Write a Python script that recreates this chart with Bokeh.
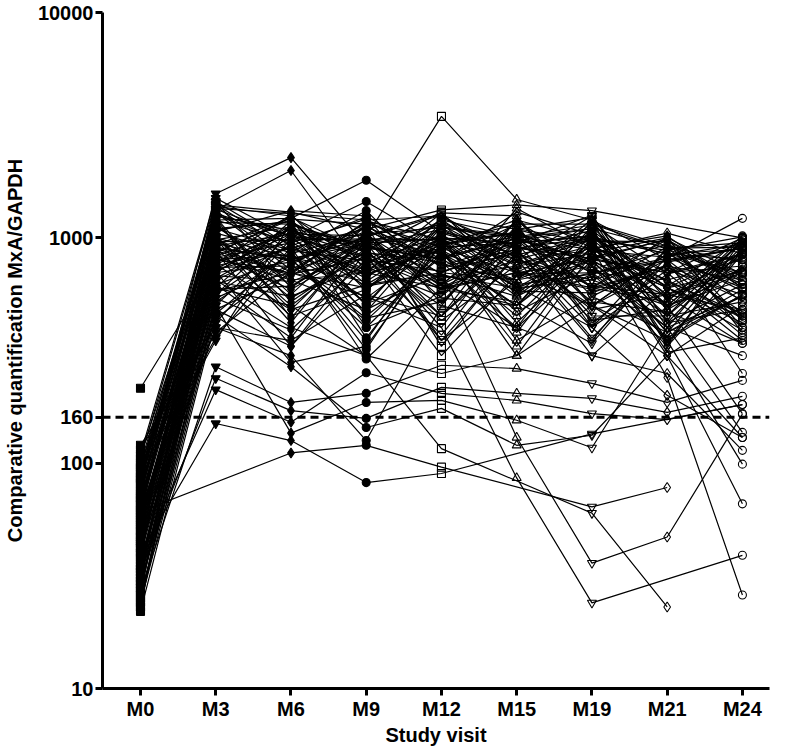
from bokeh.plotting import figure
from bokeh.models import Span, FixedTicker, NumeralTickFormatter
from bokeh.embed import file_html
from bokeh.resources import INLINE

N = None
visits = ["M0", "M3", "M6", "M9", "M12", "M15", "M19", "M21", "M24"]
y_ticks = [10, 100, 160, 1000, 10000]
threshold = 160

# one list per study visit; position i = patient i (None = no sample)
m0 = [215, 40, 61, 35, 30, 50, 70, 55, 80, 90,
      60, 100, 45, 75, 27, 33, 38, 25, 42, 48,
      52, 23, 65, 110, 105, 95, 88, 85, 82, 78,
      76, 73, 70, 68, 66, 64, 62, 58, 57, 56,
      54, 53, 51, 49, 47, 46, 44, 43, 41, 39,
      37, 36, 34, 32, 31, 29, 28, 26, 24, 22,
      115, 120, 98, 92, 87, 72, 59, 44, 31, 26,
      23, 108, 96, 84, 67, 50, 40, 34, 28, 24,
      62, 47, 35, 29, 57, 81, 93, 69, 45, 38,
      33, 27, 101, 86, 74, 63, 53, 42, 30, 25]
m3 = [750, 150, N, 600, 800, 1000, 900, 700, 1570, 1330,
      700, 1200, 1100, 1400, 268, 238, 212, 500, 450, 400,
      650, 900, 1000, 1500, 1450, 1350, 1300, 1250, 1200, 1150,
      1100, 1050, 1000, 980, 950, 920, 900, 880, 860, 840,
      820, 800, 780, 760, 740, 720, 700, 680, 660, 640,
      620, 600, 580, 560, 540, 520, 500, 480, 460, 440,
      420, 400, 380, 360, 350, 1450, 1380, 1320, 1280, 1220,
      1170, 1120, 1060, 1010, 960, 910, 860, 810, 760, 710,
      1230, 1090, 870, 650, 540, 1340, 990, 770, 590, 1410,
      1160, 830, 620, 1270, 930, 480, 1020, 730, 1380, 560]
m6 = [900, 126, 111, 500, 700, 650, 800, 1100, 2270, 1990,
      780, 1220, 880, 1300, 186, 171, 152, 136, 268, 300,
      400, 690, 820, 1000, 920, 1280, 720, 1080, 960, 610,
      1180, 860, 500, 1120, 790, 1040, 450, 680, 1230, 590,
      950, 840, 1060, 480, 750, 900, 1140, 640, 1010, 550,
      810, 1190, 700, 940, 390, 850, 1050, 330, 870, 760,
      990, 350, 710, 910, 1160, 600, 1250, 770, 1020, 440,
      1150, 700, 1320, 540, 980, 800, 1210, 650, 1100, 280,
      520, 1180, 330, 920, 760, 1010, 420, 1270, 610, 870,
      560, 1090, 360, 940, 1230, 690, 480, 1040, 800, 1140]
m9 = [700, 82, 120, 300, 550, 480, 1000, 600, 920, 700,
      1010, 1800, 790, 1090, 204, 158, 252, 186, 144, 126,
      300, 810, 690, 1450, 720, 1200, 1120, 880, 610, 980,
      780, 1320, 900, 500, 1070, 680, 590, 1030, 400, 920,
      1210, 540, 830, 1000, 640, 1100, 450, 850, 960, 750,
      940, 620, 1180, 470, 800, 1050, 720, 870, 350, 1130,
      660, 560, 950, 290, 860, 1010, 740, 1160, 510, 1040,
      900, 600, 1250, 840, 990, 400, 1150, 700, 930, 330,
      880, 360, 760, 1240, 430, 820, 1080, 580, 940, 320,
      1140, 690, 980, 510, 870, 1190, 620, 1020, 440, 900]
m12 = [600, 90, 96, 116, 400, 700, 610, 900, 800, 1000,
       3460, 1060, 1200, 1330, 272, 217, 204, 190, 175, 500,
       250, 590, 880, 920, 1100, 1250, 790, 1300, 700, 450,
       1020, 620, 810, 1180, 350, 930, 1000, 650, 550, 1090,
       740, 950, 500, 850, 1050, 690, 820, 600, 1150, 900,
       400, 970, 860, 1120, 710, 540, 950, 660, 1040, 750,
       1210, 450, 990, 600, 780, 1260, 550, 910, 680, 1110,
       350, 1010, 800, 300, 980, 850, 620, 1290, 700, 940,
       430, 940, 1170, 510, 870, 370, 760, 1230, 620, 1010,
       330, 890, 590, 1140, 450, 980, 700, 1280, 520, 850]
m15 = [800, N, N, N, 86, 130, 500, 700, 1000, 600,
       1480, 900, 1010, 1400, 263, 204, 190, 155, 120, 400,
       300, 700, 610, 1200, 800, 1090, 1300, 590, 970, 900,
       710, 1100, 500, 820, 650, 1050, 950, 400, 1030, 750,
       890, 600, 1210, 450, 850, 550, 990, 700, 920, 300,
       1100, 800, 650, 1020, 860, 500, 1150, 750, 620, 950,
       700, 980, 550, 880, 400, 810, 1350, 950, 600, 1000,
       840, 350, 1150, 690, 1040, 500, 900, 1250, 650, 1060,
       760, 470, 560, 1130, 330, 980, 650, 890, 1180, 420,
       870, 1010, 520, 760, 1210, 380, 940, 690, 1090, 580]
m19 = [650, 135, 64, 60, 24, 36, 900, 500, 1100, 800,
       1200, 1000, 700, 1320, 226, 194, 166, 117, 133, 300,
       500, 800, 400, 980, 1250, 890, 1030, 700, 1100, 810,
       600, 950, 1190, 500, 910, 700, 1010, 790, 450, 650,
       1080, 920, 550, 950, 350, 800, 600, 1050, 720, 850,
       500, 990, 750, 880, 610, 1120, 400, 850, 690, 1020,
       590, 800, 960, 400, 1060, 300, 900, 1260, 650, 780,
       1000, 550, 1150, 700, 600, 970, 850, 500, 1210, 750,
       980, 690, 1080, 420, 930, 520, 1160, 360, 750, 860,
       480, 1140, 340, 920, 600, 1010, 430, 820, 1230, 570]
m21 = [500, N, 78, 23, N, 47, 240, 300, 900, 700,
       800, 850, 810, N, 186, 168, 156, 400, 300, 250,
       350, 500, 200, 880, 420, 1050, 600, 790, 350, 700,
       1010, 500, 330, 750, 650, 400, 850, 550, 450, 980,
       600, 450, 800, 380, 900, 350, 750, 500, 940, 600,
       850, 310, 400, 820, 560, 550, 900, 650, 360, 500,
       750, 990, 300, 690, 480, 600, 1020, 420, 800, 450,
       700, 380, 890, 650, 520, 960, 600, 850, 400, 330,
       560, 880, 340, 720, 610, 470, 920, 780, 420, 1000,
       560, 700, 830, 380, 910, 640, 480, 980, 530, 760]
m24 = [700, 182, N, N, 39, 165, 26, 66, 950, 850,
       900, 800, 1220, 1000, 233, 198, 182, 137, 130, 114,
       99, 166, 130, 1010, 620, 850, 420, 900, 560, 750,
       380, 650, 990, 470, 800, 550, 700, 340, 860, 600,
       710, 980, 450, 900, 520, 850, 400, 950, 640, 450,
       890, 360, 1000, 600, 480, 700, 910, 350, 560, 960,
       650, 430, 500, 840, 740, 390, 600, 920, 250, 520,
       1000, 550, 680, 440, 1020, 400, 850, 580, 300, 760,
       720, 430, 880, 560, 980, 340, 620, 900, 480, 690,
       820, 370, 940, 590, 780, 460, 1000, 650, 870, 530]

columns = [m0, m3, m6, m9, m12, m15, m19, m21, m24]
n_pat = len(m0)
for c in columns:
    assert len(c) == n_pat, len(c)

markers = ["square", "inverted_triangle", "diamond", "circle", "square",
           "triangle", "inverted_triangle", "diamond", "circle"]
filled = [True, True, True, True, False, False, False, False, False]
sizes = [8, 9, 10, 8, 8, 9, 9, 10, 8]

FONT = "Liberation Sans"

p = figure(width=770, height=748, x_range=(-0.505, 8.36), y_range=(10, 10000),
           y_axis_type="log", output_backend="svg", toolbar_location=None,
           min_border_left=102, min_border_right=1, min_border_top=12, min_border_bottom=60)
p.background_fill_color = "white"
p.border_fill_color = "white"
p.outline_line_color = None
p.xgrid.visible = False
p.ygrid.visible = False

# patient trajectories
xs, ys = [], []
for i in range(n_pat):
    xi, yi = [], []
    for j, col in enumerate(columns):
        if col[i] is not None:
            xi.append(j)
            yi.append(col[i])
    xs.append(xi)
    ys.append(yi)
p.multi_line(xs=xs, ys=ys, line_color="black", line_width=1.2)

for j, col in enumerate(columns):
    vals = [v for v in col if v is not None]
    p.scatter(x=[j] * len(vals), y=vals, marker=markers[j], size=sizes[j],
              line_color="black", line_width=1.1,
              fill_color="black" if filled[j] else None)

p.add_layout(Span(location=threshold, dimension="width", line_color="black",
                  line_width=3, line_dash="8 5"))

p.xaxis.ticker = FixedTicker(ticks=list(range(len(visits))))
p.xaxis.major_label_overrides = {i: v for i, v in enumerate(visits)}
p.yaxis.ticker = FixedTicker(ticks=y_ticks)
p.yaxis.formatter = NumeralTickFormatter(format="0")
p.xaxis.axis_label = "Study visit"
p.yaxis.axis_label = "Comparative quantification MxA/GAPDH"

for ax in (p.xaxis, p.yaxis):
    ax.axis_line_width = 3
    ax.axis_line_color = "black"
    ax.major_tick_line_width = 3
    ax.major_tick_line_color = "black"
    ax.major_tick_out = 7
    ax.major_tick_in = 0
    ax.minor_tick_line_color = None
    ax.major_label_text_font = FONT
    ax.major_label_text_font_style = "bold"
    ax.major_label_text_font_size = "20px"
    ax.major_label_text_color = "black"
    ax.axis_label_text_font = FONT
    ax.axis_label_text_font_style = "bold"
    ax.axis_label_text_font_size = "20px"
    ax.axis_label_text_color = "black"
    ax.major_label_standoff = 2
    ax.axis_label_standoff = 1
p.yaxis.axis_label_standoff = 9

open("out.html", "w").write(file_html(p, INLINE))
